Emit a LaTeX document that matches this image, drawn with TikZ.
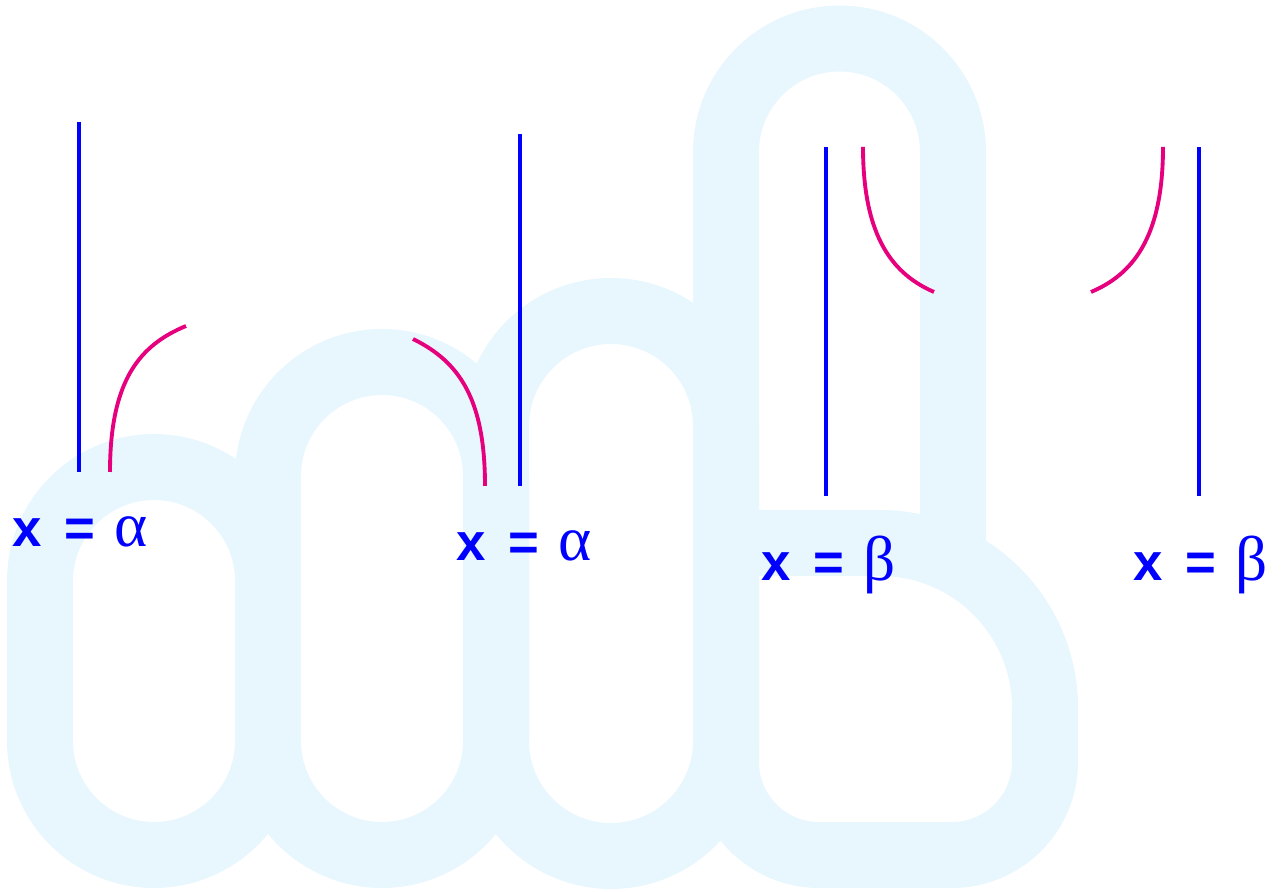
\documentclass[tikz,border=0pt]{standalone}
\usepackage{fontspec}
\setmainfont{Liberation Sans}
\newfontfamily\greekfont{Liberation Serif}
\usepackage{tikz}
\usetikzlibrary{positioning, calc}
\usepackage{xcolor}
\definecolor{wmblue}{RGB}{232,246,254}
\definecolor{rootblue}{RGB}{0,0,255}
\definecolor{curvemag}{RGB}{230,0,126}
\newcommand{\rootlabel}[1]{\textbf{x}\hspace{13pt}\textbf{=}\hspace{11pt}{\greekfont\fontsize{36}{38}\selectfont #1}}

\begin{document}
\begin{tikzpicture}[x=0.02cm, y=0.02cm,
  wm/.style={draw=wmblue, line width=1.32cm},
  rootline/.style={draw=rootblue, line width=2.2pt},
  curveline/.style={draw=curvemag, line width=2.2pt},
  rootlbl/.style={anchor=base west, inner sep=0pt, text=rootblue, font=\fontsize{30}{32}\selectfont}
]

  \useasboundingbox (0,0) rectangle (1281,892);

  % Watermark -- three loops
  \foreach \xl/\xr/\r/\yc in {40/268/114/311, 268/496/114/416, 496/726/115/466}{
    \draw[wm] (\xl,151) -- (\xl,\yc) arc[start angle=180, end angle=0, radius=\r]
      -- (\xr,151) arc[start angle=0, end angle=-180, radius=\r] -- cycle;
  }

  % Watermark -- B shape
  \draw[wm] (726,130) -- (726,740) arc[start angle=180, end angle=0, radius=113.5] -- (953,349);
  \draw[wm] (726,349) -- (880,349) arc[start angle=90, end angle=0, radius=165]
    -- (1045,130) arc[start angle=0, end angle=-90, radius=93]
    -- (819,37) arc[start angle=270, end angle=180, radius=93] -- cycle;

  % Vertical lines
  \foreach \n/\x/\yt/\yb in {a/79/770/420, b/520/758/406, c/826/745/396, d/1199/745/396}{
    \coordinate (top-\n) at (\x,\yt);
    \coordinate (bot-\n) at (\x,\yb);
    \draw[rootline] (top-\n) -- (bot-\n);
  }

  % Curves
  \coordinate (ca1) at (110,420);  \coordinate (ca2) at (186,566);
  \coordinate (cb1) at (485,406);  \coordinate (cb2) at (413,553);
  \coordinate (cc1) at (863,745);  \coordinate (cc2) at (934,600);
  \coordinate (cd1) at (1163,745); \coordinate (cd2) at (1091,600);
  \draw[curveline] (ca1) .. controls (110,512) and (140,547) .. (ca2);
  \draw[curveline] (cb1) .. controls (485,492) and (460,530) .. (cb2);
  \draw[curveline] (cc1) .. controls (863,652) and (895,617) .. (cc2);
  \draw[curveline] (cd1) .. controls (1163,652) and (1131,617) .. (cd2);

  % Labels
  \node[rootlbl] (lbl-a) at (12,345)   {\rootlabel{α}};
  \node[rootlbl] (lbl-b) at (456,331)  {\rootlabel{α}};
  \node[rootlbl] (lbl-c) at (761,311)  {\rootlabel{β}};
  \node[rootlbl] (lbl-d) at (1133,311) {\rootlabel{β}};

\end{tikzpicture}
\end{document}
